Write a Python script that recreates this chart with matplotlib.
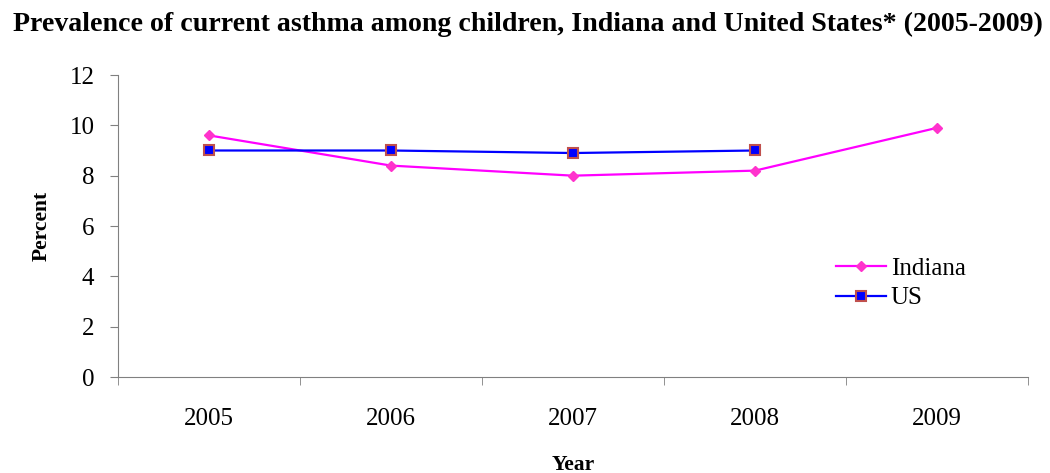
import matplotlib

matplotlib.use('Agg')

import matplotlib.pyplot as plt

years = ['2005', '2006', '2007', '2008', '2009']
indiana = [9.6, 8.4, 8.0, 8.2, 9.9]
us = [9.0, 9.0, 8.9, 9.0]

plt.rcParams['font.family'] = ['Liberation Serif', 'DejaVu Serif']

fig = plt.figure(figsize=(10.5, 4.73), dpi=100)
ax = fig.add_axes([118 / 1050, 1 - 377 / 473, 910 / 1050, 302 / 473])

x = list(range(len(years)))
ax.plot(x, indiana, color='#ff00ff', lw=1.6, marker='D', ms=5,
        mfc='#ff33cc', mec='#ff33cc', label='Indiana')
ax.plot(x[:len(us)], us, color='#0000ff', lw=1.6, marker='s', ms=7,
        mfc='#0000ff', mec='#c0504d', mew=1.5, label='US')

ax.set_xlim(-0.5, len(years) - 0.5)
ax.set_ylim(0, 12)
ax.set_yticks(range(0, 13, 2))
ax.set_xticks(x)
ax.set_xticklabels(years)
ax.set_xticks([i - 0.5 for i in range(len(years) + 1)], minor=True)
ax.tick_params(axis='x', which='major', length=0, pad=22, labelsize=18)
ax.tick_params(axis='x', which='minor', length=6, direction='out', color='#808080')
ax.tick_params(axis='y', length=6, direction='out', labelsize=18, color='#808080', pad=11)
for side in ('top', 'right'):
    ax.spines[side].set_visible(False)
for side in ('left', 'bottom'):
    ax.spines[side].set_color('#808080')

ax.set_ylabel('Percent', fontsize=15.5, fontweight='bold', labelpad=13)
ax.set_xlabel('Year', fontsize=15.5, fontweight='bold', labelpad=18)

fig.suptitle('Prevalence of current asthma among children, Indiana and United States* (2005-2009)',
             fontsize=20.1, fontweight='bold', x=0.503, y=0.975, va='top')

ax.legend(loc='center left', bbox_to_anchor=(0.775, 0.31), frameon=False,
          fontsize=18, handlelength=2.0, handletextpad=0.2, labelspacing=0.28,
          borderpad=0)

fig.savefig('out.png', dpi=100)
